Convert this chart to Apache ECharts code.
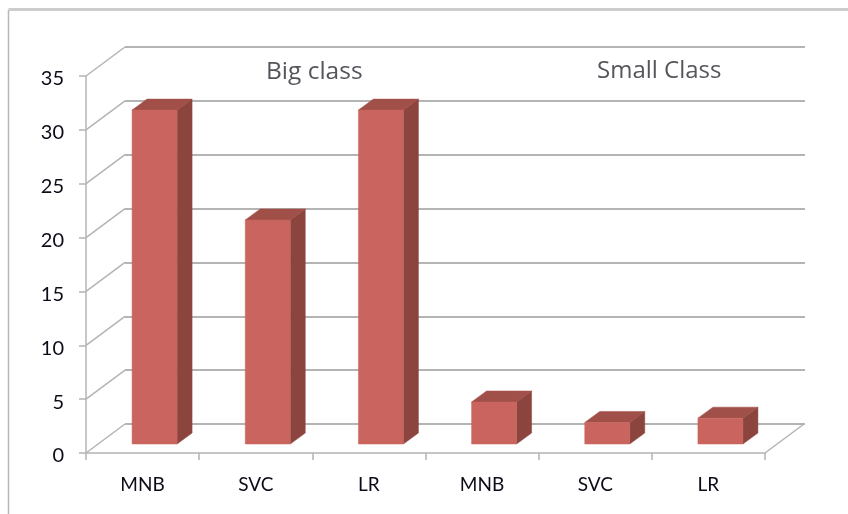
<!DOCTYPE html>
<html>
<head>
<meta charset="utf-8">
<style>html,body{margin:0;padding:0;background:#fff}#chart{width:848px;height:514px}</style>
<script src="https://cdn.jsdelivr.net/npm/echarts@6/dist/echarts.min.js"></script>
</head>
<body>
<div id="chart"></div>
<script>
// Classifier scores for two class sizes, drawn as extruded columns.
const categories = ['MNB', 'SVC', 'LR', 'MNB', 'SVC', 'LR'];
const scores = [31, 20.8, 31, 3.9, 2, 2.4];
const yTicks = [0, 5, 10, 15, 20, 25, 30, 35];
const groupLabels = ['Big class', 'Small Class'];

const FONT = 'Lato, sans-serif';
const TITLE_FONT = '"Open Sans", sans-serif';
const AXIS_GRAY = '#b4b4b4';
const WALL = [39, -29];      // shift from the front plane to the back wall
const COLUMN_SHIFT = [12, -9]; // columns stand partway between front and back
const COLUMN_DEPTH = [15, -11];
const COLUMN_WIDTH = 45;

function poly(points, fill) {
  return { type: 'polygon', shape: { points }, style: { fill, stroke: fill, lineWidth: 0.5 } };
}

const chart = echarts.init(document.getElementById('chart'), null, { renderer: 'canvas' });
chart.setOption({
  backgroundColor: '#ffffff',
  animation: false,
  grid: [
    { left: 86, right: 83, top: 76, bottom: 61 },
    { left: 125, right: 43, top: 47, bottom: 90 }
  ],
  xAxis: [
    {
      type: 'category', gridIndex: 0, data: categories,
      axisLine: { lineStyle: { color: AXIS_GRAY, width: 1.5 } },
      axisTick: { show: true, alignWithLabel: false, length: 7, lineStyle: { color: AXIS_GRAY, width: 1.5 } },
      axisLabel: { color: '#0c0c18', fontFamily: FONT, fontSize: 19, margin: 22, interval: 0 }
    },
    { type: 'category', gridIndex: 1, data: categories, show: false }
  ],
  yAxis: [
    {
      type: 'value', gridIndex: 0, min: 0, max: 35, interval: 5,
      axisLine: { show: true, lineStyle: { color: AXIS_GRAY, width: 1.5 } },
      axisTick: { show: true, length: 7, lineStyle: { color: AXIS_GRAY, width: 1.5 } },
      axisLabel: { color: '#0c0c18', fontFamily: FONT, fontSize: 20, margin: 22, verticalAlign: 'top', lineHeight: 6 },
      splitLine: { show: false }
    },
    {
      type: 'value', gridIndex: 1, min: 0, max: 35, interval: 5,
      axisLine: { show: false }, axisTick: { show: false }, axisLabel: { show: false },
      splitLine: { show: true, lineStyle: { color: AXIS_GRAY, width: 2 } }
    }
  ],
  series: [
    {
      // Diagonal lines on the side wall, one per value tick
      type: 'custom', xAxisIndex: 0, yAxisIndex: 0, clip: false, z: 2, silent: true,
      data: yTicks.map(v => [0, v]),
      renderItem(params, api) {
        const halfBand = api.size([1, 0])[0] / 2;
        const p = api.coord([0, api.value(1)]);
        const x = p[0] - halfBand;
        return {
          type: 'line',
          shape: { x1: x, y1: p[1], x2: x + WALL[0], y2: p[1] + WALL[1] },
          style: { stroke: AXIS_GRAY, lineWidth: 1.5 }
        };
      }
    },
    {
      // Right edge of the floor
      type: 'custom', xAxisIndex: 0, yAxisIndex: 0, clip: false, z: 2, silent: true,
      data: [[categories.length - 1, 0]],
      renderItem(params, api) {
        const halfBand = api.size([1, 0])[0] / 2;
        const p = api.coord([api.value(0), api.value(1)]);
        const x = p[0] + halfBand;
        return {
          type: 'line',
          shape: { x1: x, y1: p[1], x2: x + WALL[0], y2: p[1] + WALL[1] },
          style: { stroke: AXIS_GRAY, lineWidth: 1.5 }
        };
      }
    },
    {
      // Extruded columns: front, top and right faces
      type: 'custom', xAxisIndex: 0, yAxisIndex: 0, clip: false, z: 5,
      data: scores.map((v, i) => [i, v]),
      renderItem(params, api) {
        const top = api.coord([api.value(0), api.value(1)]);
        const base = api.coord([api.value(0), 0]);
        const l = top[0] + COLUMN_SHIFT[0] - COLUMN_WIDTH / 2;
        const r = l + COLUMN_WIDTH;
        const t = top[1] + COLUMN_SHIFT[1];
        const b = base[1] + COLUMN_SHIFT[1];
        const dx = COLUMN_DEPTH[0], dy = COLUMN_DEPTH[1];
        return {
          type: 'group',
          children: [
            poly([[r, t], [r + dx, t + dy], [r + dx, b + dy], [r, b]], '#8c443e'),
            poly([[l, t], [l + dx, t + dy], [r + dx, t + dy], [r, t]], '#a14f49'),
            poly([[l, t], [r, t], [r, b], [l, b]], '#c9645e')
          ]
        };
      }
    }
  ],
  graphic: [
    { type: 'line', silent: true, shape: { x1: 8.5, y1: 9.5, x2: 848, y2: 9.5 }, style: { stroke: '#cccccc', lineWidth: 3 } },
    { type: 'line', silent: true, shape: { x1: 8.5, y1: 10, x2: 8.5, y2: 514 }, style: { stroke: '#b8b8b8', lineWidth: 1.5 } },
    { type: 'text', silent: true, left: 266, top: 60, style: { text: groupLabels[0], font: '24.5px ' + TITLE_FONT, fill: '#55555c' } },
    { type: 'text', silent: true, left: 597, top: 59, style: { text: groupLabels[1], font: '24px ' + TITLE_FONT, fill: '#55555c' } }
  ]
});
</script>
</body>
</html>
